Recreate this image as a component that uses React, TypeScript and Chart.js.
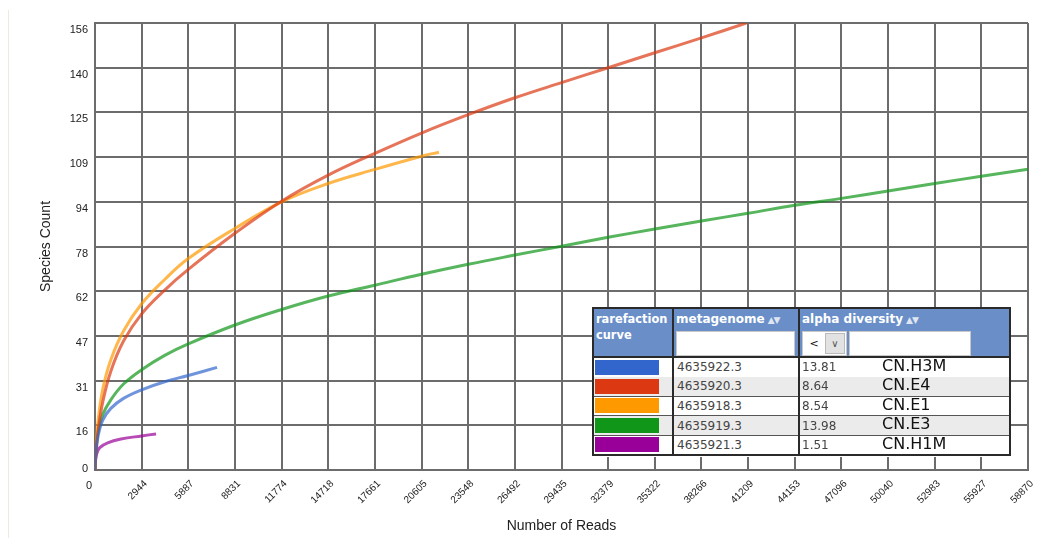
import React, { useEffect, useRef } from 'react';
import { Chart, registerables } from 'chart.js';

Chart.register(...registerables);

// Axis ticks
const X_TICKS = [0, 2944, 5887, 8831, 11774, 14718, 17661, 20605, 23548, 26492, 29435, 32379, 35322, 38266, 41209, 44153, 47096, 50040, 52983, 55927, 58870];
const Y_TICKS = ['0', '16', '31', '47', '62', '78', '94', '109', '125', '140', '156'];
const X_MAX = 58870;
const Y_MAX = 156;

// Samples, in table order
const SAMPLES = ['CN.H3M', 'CN.E4', 'CN.E1', 'CN.E3', 'CN.H1M'];
const METAGENOME_IDS = ['4635922.3', '4635920.3', '4635918.3', '4635919.3', '4635921.3'];
const ALPHA_DIVERSITY = ['13.81', '8.64', '8.54', '13.98', '1.51'];
const COLORS = ['#3366cc', '#dc3912', '#ff9900', '#109618', '#990099'];

// Rarefaction curves: number of reads vs. species count
const H3M_READS = [0, 60, 200, 500, 1000, 1800, 2944, 4400, 5887, 7700];
const H3M_SPECIES = [0, 6, 12, 17.5, 21.5, 25, 28, 30.8, 33, 35.8];

const E4_READS = [0, 60, 200, 500, 1000, 1800, 2944, 4400, 5887, 8831, 11774, 14718, 17661, 20605, 23548, 26492, 29435, 32379, 35322, 38266, 41100];
const E4_SPECIES = [0, 6, 14, 24, 34.5, 45, 54.5, 62.8, 70, 82.6, 93.8, 102.9, 110.5, 117.6, 124, 129.9, 135.2, 140.4, 145.6, 150.8, 156];

const E1_READS = [0, 60, 200, 500, 1000, 1800, 2944, 4400, 5887, 8831, 11774, 14718, 17661, 20605, 21700];
const E1_SPECIES = [0, 8.5, 17.5, 28.5, 38.5, 48.5, 58, 66.5, 73.8, 84.3, 93.6, 100, 104.9, 109.5, 110.9];

const E3_READS = [0, 60, 200, 500, 1000, 1800, 2944, 4400, 5887, 8831, 11774, 14718, 17661, 20605, 23548, 26492, 29435, 32379, 35322, 38266, 41209, 44153, 47096, 50040, 52983, 55927, 58870];
const E3_SPECIES = [0, 7, 13.5, 19.5, 24.5, 30, 35, 40, 44, 50.6, 56, 60.7, 64.5, 68.3, 71.8, 75, 78.1, 81.2, 84.1, 86.9, 89.6, 92.4, 94.8, 97.4, 100, 102.5, 105];

const H1M_READS = [0, 30, 100, 300, 800, 1640, 2944, 3850];
const H1M_SPECIES = [0, 3, 5.5, 7.8, 9.5, 10.8, 11.9, 12.6];

const CURVES = [
  [H3M_READS, H3M_SPECIES],
  [E4_READS, E4_SPECIES],
  [E1_READS, E1_SPECIES],
  [E3_READS, E3_SPECIES],
  [H1M_READS, H1M_SPECIES],
];

const GRID = '#6c6c6c';
const AXIS_FONT = '"Liberation Sans", Arial, sans-serif';
const TABLE_FONT = '"DejaVu Sans", Verdana, sans-serif';

function withAlpha(hex: string, a: number) {
  const n = parseInt(hex.slice(1), 16);
  return `rgba(${(n >> 16) & 255},${(n >> 8) & 255},${n & 255},${a})`;
}

// The origin labels sit unrotated in the corner, apart from the other ticks
const originLabels = {
  id: 'originLabels',
  afterDraw(chart: any) {
    const { ctx } = chart;
    const x = chart.scales.x;
    const y = chart.scales.y;
    ctx.save();
    ctx.fillStyle = '#222';
    ctx.font = `11px ${AXIS_FONT}`;
    ctx.textAlign = 'right';
    ctx.textBaseline = 'middle';
    ctx.fillText(Y_TICKS[0], y.right - 7, y.getPixelForValue(0) - 1);
    ctx.textAlign = 'center';
    ctx.fillText(String(X_TICKS[0]), x.getPixelForValue(0) - 6, x.top + 16);
    ctx.restore();
  },
};

function RarefactionChart() {
  const ref = useRef<HTMLCanvasElement | null>(null);

  useEffect(() => {
    if (!ref.current) return;
    const chart = new Chart(ref.current, {
      type: 'line',
      data: {
        datasets: CURVES.map(([reads, species], i) => ({
          label: SAMPLES[i],
          data: reads.map((r, j) => ({ x: r, y: species[j] })),
          borderColor: withAlpha(COLORS[i], 0.7),
          backgroundColor: withAlpha(COLORS[i], 0.7),
          borderWidth: 3,
          pointRadius: 0,
          fill: false,
          tension: 0.4,
        })),
      },
      options: {
        animation: false,
        responsive: false,
        maintainAspectRatio: false,
        layout: { padding: { left: 0, right: 9, top: 23, bottom: 0 } },
        plugins: { legend: { display: false }, tooltip: { enabled: false } },
        scales: {
          x: {
            type: 'linear',
            min: 0,
            max: X_MAX,
            afterBuildTicks: (s: any) => {
              s.ticks = X_TICKS.map((v) => ({ value: v }));
            },
            afterFit: (s: any) => {
              s.height = 68;
              s.paddingLeft = 0;
              s.paddingRight = 0;
            },
            ticks: {
              autoSkip: false,
              minRotation: 45,
              maxRotation: 45,
              padding: 8,
              labelOffset: 4,
              color: '#222',
              font: { family: AXIS_FONT, size: 10 },
              callback: (_v: any, i: number) => (i === 0 ? '' : String(X_TICKS[i])),
            },
            grid: { color: GRID, lineWidth: 2, drawTicks: false },
            border: { color: GRID, width: 2 },
            title: {
              display: true,
              text: 'Number of Reads',
              color: '#222',
              font: { family: AXIS_FONT, size: 14 },
              padding: { top: 0, bottom: 3 },
            },
          },
          y: {
            type: 'linear',
            min: 0,
            max: Y_MAX,
            afterBuildTicks: (s: any) => {
              s.ticks = Y_TICKS.map((_t, i) => ({ value: (i * Y_MAX) / (Y_TICKS.length - 1) }));
            },
            afterFit: (s: any) => {
              s.width = 95;
              s.paddingTop = 0;
              s.paddingBottom = 0;
            },
            ticks: {
              autoSkip: false,
              padding: 7,
              labelOffset: 7,
              color: '#222',
              font: { family: AXIS_FONT, size: 11 },
              callback: (_v: any, i: number) => (i === 0 ? '' : Y_TICKS[i]),
            },
            grid: { color: GRID, lineWidth: 2, drawTicks: false },
            border: { color: GRID, width: 2 },
            title: {
              display: true,
              text: 'Species Count',
              color: '#222',
              font: { family: AXIS_FONT, size: 14 },
              padding: { top: 38, bottom: 0 },
            },
          },
        },
      },
      plugins: [originLabels],
    });
    return () => chart.destroy();
  }, []);

  return <canvas ref={ref} width={1037} height={538} style={{ display: 'block', width: 1037, height: 538 }} />;
}

const SortIcon = () => (
  <span style={{ color: '#dfe6f2', fontSize: 9, marginLeft: 3, letterSpacing: -1 }}>▲▼</span>
);

const inputBox: React.CSSProperties = {
  background: '#fff',
  border: '1px solid #c8c8c8',
  boxSizing: 'border-box',
  height: 25,
};

function SampleTable() {
  const thick = '2px solid #2a2a2a';
  const thin = '1px solid #555';
  const headCell: React.CSSProperties = {
    verticalAlign: 'top',
    padding: '2px 2px 0 2px',
    color: '#fff',
    fontWeight: 'bold',
    fontSize: 12,
    lineHeight: '16px',
    textAlign: 'left',
    background: '#6a8fc8',
    whiteSpace: 'nowrap',
  };
  return (
    <div
      style={{
        position: 'absolute',
        left: 592,
        top: 307,
        width: 417,
        height: 150,
        background: '#fff',
        fontFamily: TABLE_FONT,
      }}
    >
      <table
        style={{
          borderCollapse: 'collapse',
          tableLayout: 'fixed',
          width: 417,
          border: thick,
        }}
      >
        <colgroup>
          <col style={{ width: 80 }} />
          <col style={{ width: 126 }} />
          <col style={{ width: 211 }} />
        </colgroup>
        <thead>
          <tr style={{ height: 49, borderBottom: thick }}>
            <th style={{ ...headCell, fontSize: 11.4, borderRight: thick }}>
              rarefaction
              <br />
              curve
            </th>
            <th style={{ ...headCell, borderRight: thick }}>
              metagenome
              <SortIcon />
              <div style={{ ...inputBox, width: 119, marginTop: 3 }} />
            </th>
            <th style={headCell}>
              alpha diversity
              <SortIcon />
              <div style={{ display: 'flex', marginTop: 3, gap: 2 }}>
                <div
                  style={{
                    ...inputBox,
                    width: 45,
                    display: 'flex',
                    alignItems: 'center',
                    color: '#111',
                    fontWeight: 'normal',
                    fontSize: 11,
                  }}
                >
                  <span style={{ width: 22, textAlign: 'center' }}>&lt;</span>
                  <span
                    style={{
                      width: 20,
                      height: 21,
                      background: '#e2e2e2',
                      border: '1px solid #bbb',
                      boxSizing: 'border-box',
                      display: 'flex',
                      alignItems: 'center',
                      justifyContent: 'center',
                      color: '#555',
                      fontSize: 10,
                    }}
                  >
                    ∨
                  </span>
                </div>
                <div style={{ ...inputBox, width: 122 }} />
              </div>
            </th>
          </tr>
        </thead>
        <tbody>
          {SAMPLES.map((name, i) => (
            <tr
              key={name}
              style={{
                height: 19.6,
                background: i % 2 === 1 ? '#ebebeb' : '#fff',
                borderBottom: i === 0 ? 'none' : thin,
              }}
            >
              <td style={{ padding: '0 0 0 1px', borderRight: thick }}>
                <div style={{ width: 64, height: 15, background: COLORS[i] }} />
              </td>
              <td style={{ padding: '0 0 0 3px', borderRight: thick, fontSize: 12, color: '#444', lineHeight: '16px' }}>
                {METAGENOME_IDS[i]}
              </td>
              <td
                style={{
                  padding: '0 0 0 2px',
                  fontSize: 12,
                  color: '#444',
                  lineHeight: '16px',
                  whiteSpace: 'nowrap',
                  position: 'relative',
                }}
              >
                {ALPHA_DIVERSITY[i]}
                <span
                  style={{
                    position: 'absolute',
                    left: 82,
                    top: -2,
                    fontSize: 16,
                    lineHeight: '20px',
                    color: '#111',
                  }}
                >
                  {name}
                </span>
              </td>
            </tr>
          ))}
        </tbody>
      </table>
    </div>
  );
}

export default function App() {
  return (
    <div
      style={{
        position: 'absolute',
        left: 0,
        top: 0,
        width: 1037,
        height: 538,
        background: '#fff',
        overflow: 'hidden',
      }}
    >
      <div
        style={{
          position: 'absolute',
          left: 8,
          top: 10,
          width: 1,
          height: 528,
          background: '#ebebdf',
        }}
      />
      <RarefactionChart />
      <SampleTable />
    </div>
  );
}
